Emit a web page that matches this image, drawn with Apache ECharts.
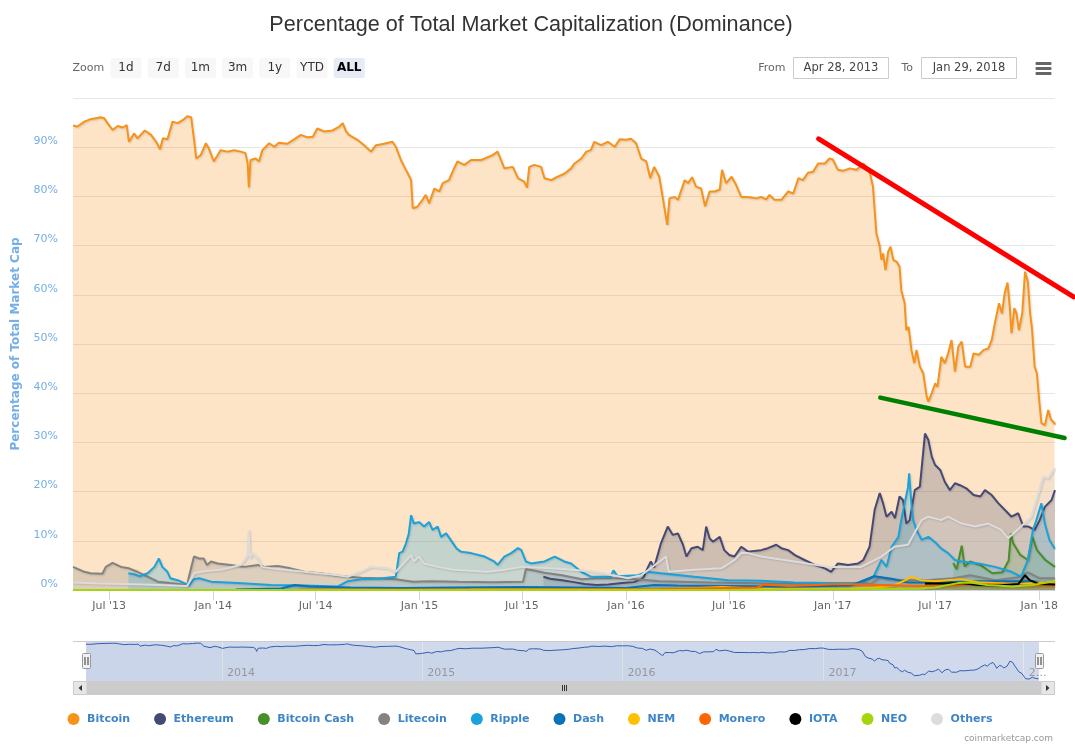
<!DOCTYPE html>
<html><head><meta charset="utf-8">
<script src="https://cdn.jsdelivr.net/npm/echarts@6/dist/echarts.min.js"></script>
<style>html,body{margin:0;padding:0;background:#fff}#c{width:1075px;height:747px}</style>
</head><body><div id="c"></div>
<script>
// ---------------- DATA ----------------
const coinNames = ['Bitcoin','Ethereum','Bitcoin Cash','Litecoin','Ripple','Dash','NEM','Monero','IOTA','NEO','Others'];
const coinColors = ['#f7931a','#454a75','#478f2b','#838383','#1aa2db','#0a72b6','#fec000','#ff6600','#000000','#a4d60e','#dcdcdc'];

const xTickDates = ['2013-07-01','2014-01-01','2014-07-01','2015-01-01','2015-07-01','2016-01-01','2016-07-01','2017-01-01','2017-07-01','2018-01-01'];
const xTickLabels = ["Jul '13","Jan '14","Jul '14","Jan '15","Jul '15","Jan '16","Jul '16","Jan '17","Jul '17","Jan '18"];
const navTickDates = ['2014-01-01','2015-01-01','2016-01-01','2017-01-01','2018-01-01'];
const navTickLabels = ['2014','2015','2016','2017','2…'];
const dateRange = ['2013-04-28','2018-01-29'];

const btc = [['2013-04-28',94.4],['2013-05-06',94.2],['2013-05-18',95.2],['2013-05-29',95.7],['2013-06-16',96.1],['2013-06-22',95.9],['2013-06-28',94.9],['2013-07-07',93.5],['2013-07-16',94.3],['2013-07-25',94.0],['2013-08-01',94.5],['2013-08-05',91.1],['2013-08-14',92.8],['2013-08-20',91.8],['2013-09-02',93.4],['2013-09-13',92.5],['2013-09-22',91.1],['2013-09-29',89.6],['2013-10-04',91.8],['2013-10-12',91.6],['2013-10-21',95.2],['2013-10-30',94.9],['2013-11-08',95.5],['2013-11-16',96.3],['2013-11-23',96.1],['2013-11-29',90.8],['2013-12-02',87.7],['2013-12-10',88.4],['2013-12-19',90.8],['2013-12-24',89.8],['2014-01-02',87.1],['2014-01-14',89.4],['2014-01-26',89.1],['2014-02-07',89.4],['2014-02-19',89.1],['2014-02-27',88.8],['2014-03-03',86.7],['2014-03-05',81.8],['2014-03-08',87.4],['2014-03-17',87.7],['2014-03-23',87.1],['2014-03-29',89.4],['2014-04-10',90.8],['2014-04-19',90.1],['2014-04-27',90.9],['2014-05-12',90.7],['2014-05-24',91.6],['2014-06-05',92.5],['2014-06-17',92.0],['2014-06-26',92.1],['2014-07-04',93.8],['2014-07-16',93.2],['2014-07-31',93.4],['2014-08-12',94.2],['2014-08-18',94.9],['2014-08-24',93.2],['2014-08-29',92.5],['2014-09-13',91.5],['2014-09-25',90.4],['2014-10-07',89.1],['2014-10-16',90.4],['2014-10-30',90.7],['2014-11-14',91.1],['2014-11-20',90.1],['2014-11-29',87.4],['2014-12-05',86.0],['2014-12-11',84.7],['2014-12-17',83.3],['2014-12-20',77.6],['2014-12-28',77.9],['2015-01-06',79.3],['2015-01-12',80.3],['2015-01-18',78.6],['2015-01-27',81.6],['2015-02-05',81.0],['2015-02-11',82.7],['2015-02-22',83.3],['2015-03-03',85.7],['2015-03-09',87.1],['2015-03-21',86.4],['2015-04-02',87.4],['2015-04-20',87.4],['2015-05-10',88.4],['2015-05-19',89.1],['2015-05-31',85.7],['2015-06-15',86.0],['2015-06-24',83.7],['2015-07-05',83.0],['2015-07-10',81.8],['2015-07-14',86.0],['2015-07-23',86.4],['2015-08-04',86.0],['2015-08-10',83.7],['2015-08-22',83.3],['2015-09-02',84.0],['2015-09-14',84.6],['2015-09-26',85.7],['2015-10-02',86.7],['2015-10-14',87.7],['2015-10-23',89.1],['2015-10-31',89.4],['2015-11-06',91.1],['2015-11-18',90.4],['2015-11-30',91.1],['2015-12-12',90.1],['2015-12-21',91.6],['2016-01-01',91.5],['2016-01-10',91.7],['2016-01-19',90.8],['2016-01-28',87.7],['2016-02-06',87.1],['2016-02-13',83.7],['2016-02-20',86.0],['2016-02-29',84.0],['2016-03-06',79.9],['2016-03-14',74.2],['2016-03-18',79.6],['2016-03-27',79.9],['2016-04-02',79.3],['2016-04-14',83.3],['2016-04-20',82.7],['2016-04-27',83.9],['2016-05-04',82.0],['2016-05-13',81.6],['2016-05-20',78.0],['2016-05-28',81.0],['2016-06-06',81.0],['2016-06-15',81.4],['2016-06-19',85.4],['2016-06-26',82.7],['2016-07-06',84.0],['2016-07-14',82.3],['2016-07-23',79.9],['2016-08-04',79.9],['2016-08-19',79.6],['2016-08-27',79.9],['2016-09-05',79.4],['2016-09-11',80.3],['2016-09-20',79.3],['2016-10-02',79.3],['2016-10-14',81.0],['2016-10-23',80.6],['2016-11-01',83.7],['2016-11-09',83.3],['2016-11-18',84.8],['2016-11-27',85.0],['2016-12-06',86.7],['2016-12-18',86.7],['2016-12-26',87.7],['2017-01-01',87.5],['2017-01-10',85.4],['2017-01-19',85.2],['2017-01-31',85.7],['2017-02-12',85.4],['2017-02-24',86.7],['2017-03-07',85.0],['2017-03-13',82.0],['2017-03-16',77.2],['2017-03-19',72.5],['2017-03-25',69.8],['2017-03-28',67.1],['2017-03-31',68.4],['2017-04-04',65.0],['2017-04-09',68.8],['2017-04-13',69.8],['2017-04-18',67.1],['2017-04-24',66.7],['2017-04-29',65.7],['2017-05-02',61.0],['2017-05-08',58.3],['2017-05-11',52.8],['2017-05-15',53.5],['2017-05-20',48.8],['2017-05-25',46.1],['2017-05-29',48.8],['2017-06-04',45.4],['2017-06-10',44.0],['2017-06-16',39.3],['2017-06-19',38.3],['2017-06-25',40.0],['2017-07-01',42.0],['2017-07-05',41.3],['2017-07-12',47.4],['2017-07-18',46.1],['2017-07-24',48.1],['2017-07-30',50.8],['2017-08-05',44.4],['2017-08-11',49.5],['2017-08-17',50.5],['2017-08-23',45.4],['2017-09-01',45.4],['2017-09-07',48.1],['2017-09-16',47.8],['2017-09-25',48.8],['2017-10-03',49.1],['2017-10-09',50.8],['2017-10-15',54.5],['2017-10-22',58.3],['2017-10-27',56.2],['2017-11-01',60.3],['2017-11-06',62.5],['2017-11-10',57.6],['2017-11-13',52.2],['2017-11-18',57.3],['2017-11-22',56.2],['2017-11-26',52.8],['2017-12-02',56.2],['2017-12-07',64.7],['2017-12-12',62.7],['2017-12-16',56.2],['2017-12-19',53.5],['2017-12-24',45.4],['2017-12-28',44.0],['2018-01-01',38.6],['2018-01-05',33.9],['2018-01-11',33.5],['2018-01-17',36.6],['2018-01-22',34.6],['2018-01-28',33.9],['2018-01-29',33.6]];

const eth = [['2015-08-08',2.7],['2015-08-20',2.3],['2015-09-10',2.0],['2015-10-01',1.6],['2015-10-20',1.2],['2015-11-10',1.0],['2015-12-01',1.1],['2015-12-25',1.4],['2016-01-15',1.6],['2016-01-28',2.2],['2016-02-02',2.7],['2016-02-08',4.4],['2016-02-14',5.8],['2016-02-20',4.6],['2016-03-03',9.5],['2016-03-15',12.9],['2016-03-24',11.2],['2016-04-02',11.5],['2016-04-11',9.2],['2016-04-17',6.8],['2016-04-26',8.5],['2016-05-07',8.8],['2016-05-16',8.1],['2016-05-22',12.9],['2016-05-28',10.5],['2016-06-03',9.8],['2016-06-15',10.8],['2016-06-23',8.1],['2016-07-02',7.1],['2016-07-11',6.8],['2016-07-23',8.8],['2016-08-04',7.8],['2016-08-27',8.1],['2016-09-08',8.5],['2016-09-23',9.2],['2016-10-02',8.5],['2016-10-14',8.1],['2016-10-26',7.1],['2016-11-12',6.1],['2016-11-30',5.1],['2016-12-18',4.4],['2016-12-29',3.7],['2017-01-10',5.4],['2017-01-28',5.1],['2017-02-15',5.4],['2017-02-24',6.1],['2017-03-07',8.8],['2017-03-16',16.3],['2017-03-25',19.7],['2017-03-31',17.6],['2017-04-06',14.9],['2017-04-15',15.9],['2017-04-21',14.6],['2017-04-29',19.0],['2017-05-05',18.3],['2017-05-11',13.5],['2017-05-17',14.2],['2017-05-26',20.3],['2017-06-04',21.0],['2017-06-13',31.8],['2017-06-19',30.5],['2017-06-25',27.1],['2017-07-01',25.4],['2017-07-10',24.4],['2017-07-18',22.0],['2017-07-27',20.3],['2017-08-05',21.7],['2017-08-14',21.3],['2017-08-26',20.6],['2017-09-07',19.3],['2017-09-19',19.0],['2017-09-27',20.3],['2017-10-09',19.3],['2017-10-21',17.6],['2017-11-01',16.3],['2017-11-13',14.9],['2017-11-25',15.6],['2017-12-04',12.9],['2017-12-13',12.9],['2017-12-24',12.2],['2018-01-02',14.2],['2018-01-11',16.9],['2018-01-23',18.3],['2018-01-29',20.3]];

const bch = [['2017-08-02',5.5],['2017-08-08',4.2],['2017-08-17',9.0],['2017-08-22',4.8],['2017-09-01',5.8],['2017-09-20',5.0],['2017-10-10',3.4],['2017-10-28',3.6],['2017-11-08',6.0],['2017-11-12',11.5],['2017-11-16',9.5],['2017-11-28',7.2],['2017-12-12',6.1],['2017-12-20',10.8],['2017-12-28',8.1],['2018-01-12',6.1],['2018-01-29',4.7]];

const ltc = [['2013-04-28',4.7],['2013-05-18',3.7],['2013-05-29',3.4],['2013-06-19',3.3],['2013-06-25',4.7],['2013-07-07',5.5],['2013-07-22',4.7],['2013-08-05',4.4],['2013-08-20',3.7],['2013-09-07',2.7],['2013-09-25',1.7],['2013-10-17',1.4],['2013-11-16',1.0],['2013-11-19',2.7],['2013-11-28',6.8],['2013-12-07',6.4],['2013-12-15',6.4],['2013-12-21',5.1],['2013-12-28',5.8],['2014-01-09',5.4],['2014-02-01',5.1],['2014-02-25',4.7],['2014-03-21',5.1],['2014-04-01',4.7],['2014-04-25',4.9],['2014-05-18',4.4],['2014-06-11',3.7],['2014-07-10',3.4],['2014-08-03',3.0],['2014-08-27',2.7],['2014-09-20',2.5],['2014-10-20',2.4],['2014-11-20',2.2],['2014-12-20',1.7],['2015-01-20',1.8],['2015-03-10',1.7],['2015-05-10',1.6],['2015-07-03',1.7],['2015-07-08',4.2],['2015-07-20',4.0],['2015-08-10',3.5],['2015-09-10',3.0],['2015-10-15',2.2],['2015-11-10',2.4],['2015-12-15',2.4],['2016-01-20',2.2],['2016-03-01',1.8],['2016-06-01',1.5],['2016-09-01',1.3],['2016-12-01',1.3],['2017-01-15',1.3],['2017-03-10',1.3],['2017-03-25',2.6],['2017-04-10',2.2],['2017-05-10',2.0],['2017-06-15',2.0],['2017-08-01',2.4],['2017-09-01',3.0],['2017-10-15',2.0],['2017-11-25',2.6],['2017-12-12',3.6],['2018-01-01',2.4],['2018-01-29',2.4]];

const xrp = [['2013-08-04',3.4],['2013-08-14',3.2],['2013-08-24',2.8],['2013-09-07',3.4],['2013-09-19',4.7],['2013-09-27',6.4],['2013-10-03',4.7],['2013-10-12',3.7],['2013-10-17',2.4],['2013-10-30',2.0],['2013-11-11',1.4],['2013-11-19',0.9],['2013-11-28',2.2],['2013-12-07',2.4],['2013-12-28',1.7],['2014-02-13',1.4],['2014-04-13',1.0],['2014-06-11',0.9],['2014-08-09',0.7],['2014-08-27',1.8],['2014-09-20',2.2],['2014-10-20',2.3],['2014-11-20',2.7],['2014-11-26',7.5],['2014-12-02',7.8],['2014-12-08',9.5],['2014-12-13',11.5],['2014-12-17',15.2],['2014-12-22',13.5],['2014-12-31',13.8],['2015-01-09',12.9],['2015-01-18',13.8],['2015-01-24',12.2],['2015-02-02',12.9],['2015-02-08',10.8],['2015-02-17',11.5],['2015-02-25',10.2],['2015-03-07',8.5],['2015-03-15',7.8],['2015-04-02',7.5],['2015-04-26',6.8],['2015-05-13',5.8],['2015-05-19',5.1],['2015-05-31',6.8],['2015-06-12',7.5],['2015-06-24',8.5],['2015-06-30',8.1],['2015-07-08',5.8],['2015-07-17',5.4],['2015-08-10',5.8],['2015-08-28',6.8],['2015-09-14',5.8],['2015-09-26',5.4],['2015-10-14',3.7],['2015-10-31',2.7],['2015-12-05',2.7],['2015-12-10',4.0],['2015-12-17',2.8],['2016-01-22',3.0],['2016-02-08',3.7],['2016-03-03',3.4],['2016-05-01',2.7],['2016-06-30',2.0],['2016-08-27',1.9],['2016-10-25',1.5],['2016-12-24',1.4],['2017-02-20',1.4],['2017-03-14',2.7],['2017-03-28',6.1],['2017-04-06',4.7],['2017-04-15',8.8],['2017-04-27',10.8],['2017-05-02',14.2],['2017-05-08',17.6],['2017-05-14',20.9],['2017-05-16',23.7],['2017-05-20',17.6],['2017-05-23',14.2],['2017-05-29',12.2],['2017-06-07',10.2],['2017-06-19',10.8],['2017-07-01',9.7],['2017-07-12',8.4],['2017-07-24',7.5],['2017-08-05',6.1],['2017-08-17',5.8],['2017-09-16',5.4],['2017-10-15',4.7],['2017-11-13',3.7],['2017-11-30',2.7],['2017-12-12',6.1],['2017-12-21',12.2],['2017-12-27',14.2],['2018-01-05',17.6],['2018-01-11',13.5],['2018-01-19',10.2],['2018-01-28',8.5],['2018-01-29',8.4]];

const dash = [['2014-02-10',0.1],['2014-05-01',0.3],['2014-05-25',1.0],['2014-06-20',0.7],['2014-09-01',0.5],['2014-12-01',0.4],['2015-03-01',0.5],['2015-07-01',0.6],['2015-10-01',0.5],['2016-01-01',0.4],['2016-02-20',1.0],['2016-04-01',0.9],['2016-07-01',0.8],['2016-10-01',0.7],['2016-12-15',0.8],['2017-02-01',0.9],['2017-03-15',2.8],['2017-04-15',2.3],['2017-05-15',1.5],['2017-07-01',1.5],['2017-09-01',1.8],['2017-11-15',1.8],['2017-12-20',1.8],['2018-01-29',1.3]];

const nem = [['2015-04-01',0.1],['2016-03-01',0.1],['2016-06-20',0.6],['2016-09-01',0.2],['2016-12-01',0.2],['2017-02-01',0.3],['2017-03-15',0.5],['2017-04-15',0.8],['2017-05-10',2.0],['2017-05-20',2.7],['2017-06-05',2.0],['2017-07-01',1.8],['2017-08-15',2.2],['2017-09-15',1.6],['2017-11-01',1.3],['2017-12-01',1.2],['2018-01-05',1.6],['2018-01-29',1.4]];

const xmr = [['2014-06-01',0.1],['2015-06-01',0.1],['2016-03-01',0.2],['2016-08-20',0.5],['2016-09-01',1.1],['2016-10-15',0.8],['2016-12-01',1.0],['2017-01-15',1.2],['2017-03-01',1.1],['2017-04-01',1.0],['2017-06-01',0.8],['2017-08-01',0.9],['2017-09-01',1.2],['2017-11-01',1.1],['2017-12-15',0.9],['2018-01-29',0.9]];

const iota = [['2017-06-13',1.3],['2017-07-15',1.3],['2017-08-15',1.4],['2017-09-15',1.0],['2017-10-20',0.9],['2017-11-25',1.2],['2017-12-07',3.0],['2017-12-15',2.0],['2018-01-01',1.2],['2018-01-29',1.1]];

const neo = [['2013-04-28',0],['2016-09-08',0],['2016-10-01',0.1],['2017-02-01',0.1],['2017-06-01',0.3],['2017-07-01',0.5],['2017-08-10',1.4],['2017-09-01',1.5],['2017-10-01',1.0],['2017-11-15',0.7],['2017-12-20',1.0],['2018-01-15',1.5],['2018-01-29',1.9]];

const others = [['2013-04-28',1.5],['2013-06-15',1.3],['2013-09-01',1.1],['2013-11-16',0.8],['2013-11-28',3.4],['2013-12-15',3.8],['2014-01-14',4.1],['2014-02-19',5.1],['2014-03-03',7.0],['2014-03-05',12.2],['2014-03-07',6.5],['2014-03-11',7.5],['2014-03-21',6.4],['2014-03-28',4.7],['2014-04-13',4.4],['2014-06-11',3.7],['2014-08-09',3.0],['2014-08-27',2.7],['2014-09-19',3.7],['2014-10-07',4.7],['2014-11-06',4.4],['2014-11-20',3.7],['2014-12-17',7.1],['2014-12-22',5.8],['2014-12-31',6.8],['2015-01-09',5.4],['2015-02-02',4.7],['2015-03-03',4.1],['2015-05-01',3.7],['2015-05-31',4.1],['2015-06-30',4.7],['2015-09-08',4.3],['2015-11-06',3.7],['2016-01-05',2.4],['2016-01-28',3.0],['2016-03-12',6.8],['2016-03-17',3.7],['2016-05-01',4.1],['2016-06-18',4.4],['2016-07-11',6.1],['2016-07-23',7.5],['2016-08-04',7.5],['2016-08-27',6.8],['2016-10-25',5.8],['2016-12-24',4.7],['2017-02-20',4.7],['2017-03-28',6.8],['2017-04-20',8.8],['2017-05-14',9.2],['2017-05-25',11.5],['2017-06-07',14.2],['2017-06-19',14.9],['2017-07-12',14.2],['2017-07-24',14.9],['2017-08-17',13.5],['2017-09-10',12.9],['2017-10-03',13.5],['2017-10-26',12.2],['2017-11-07',10.5],['2017-11-30',12.9],['2017-12-18',14.9],['2017-12-27',18.3],['2018-01-08',23.0],['2018-01-17',22.7],['2018-01-28',24.7],['2018-01-29',24.5]];

// hand-drawn trend annotations (date, %)
const redTrend = [['2016-12-07',91.7],['2018-03-03',59.6]];
const greenTrend = [['2017-03-26',39.1],['2018-02-15',30.9]];

const coinData = [btc, eth, bch, ltc, xrp, dash, nem, xmr, iota, neo, others];
const rangeButtons = ['1d','7d','1m','3m','1y','YTD','ALL'];

// ---------------- CHART ----------------
function ts(d){ const p = d.split('-').map(Number); return new Date(p[0], p[1]-1, p[2]).getTime(); }
const toXY = arr => arr.map(p => [ts(p[0]), p[1]]);
function labeler(dates, labels){ const t = dates.map(ts); return v => { const i = t.findIndex(x => Math.abs(x - v) < 43200000); return i >= 0 ? labels[i] : ''; }; }

const chart = echarts.init(document.getElementById('c'));
const FONT = 'DejaVu Sans';
const xMin = ts(dateRange[0]), xMax = ts(dateRange[1]);

const series = coinNames.map((name, i) => ({
  name, type: 'line', xAxisIndex: 0, yAxisIndex: 0, data: toXY(coinData[i]),
  showSymbol: false, symbol: 'none', color: coinColors[i],
  lineStyle: { width: 2, color: coinColors[i], shadowColor: 'rgba(0,0,0,0.15)', shadowBlur: 2, shadowOffsetX: 1, shadowOffsetY: 1 },
  areaStyle: { color: coinColors[i], opacity: 0.25 },
  itemStyle: { color: coinColors[i] },
  emphasis: { disabled: true }, silent: true
}));
series.push({ type: 'line', xAxisIndex: 1, yAxisIndex: 1, data: toXY(btc), showSymbol: false, symbol: 'none', silent: true,
  lineStyle: { color: '#335cad', width: 1 }, areaStyle: { color: 'rgba(51,92,173,0.05)' } });

const xTickVals = xTickDates.map(ts), navTickVals = navTickDates.map(ts);

chart.setOption({
  animation: false,
  textStyle: { fontFamily: FONT },
  title: { text: 'Percentage of Total Market Capitalization (Dominance)', left: 526, top: 9, textAlign: 'center',
    textStyle: { fontFamily: 'Liberation Sans', fontSize: 21.6, fontWeight: 'normal', color: '#333333' } },
  legend: { data: coinNames, left: 62.5, top: 708, icon: 'circle', itemWidth: 17, itemHeight: 12, itemGap: 24,
    itemStyle: { borderWidth: 0 }, selectedMode: false,
    textStyle: { fontFamily: FONT, fontWeight: 'bold', fontSize: 11, color: '#3d85c6' } },
  grid: [
    { left: 73, right: 20, top: 98, bottom: 157, outerBoundsMode: 'none' },
    { left: 86, right: 36, top: 641, height: 40, show: true, backgroundColor: 'rgba(102,133,194,0.3)', borderWidth: 0, outerBoundsMode: 'none' }
  ],
  xAxis: [
    { type: 'value', gridIndex: 0, min: xMin, max: xMax, scale: true,
      axisLine: { show: true, lineStyle: { color: '#ccd6eb' } },
      axisTick: { show: true, length: 10, customValues: xTickVals, lineStyle: { color: '#ccd6eb' } },
      axisLabel: { customValues: xTickVals, formatter: labeler(xTickDates, xTickLabels), color: '#666666', fontSize: 11, fontFamily: FONT, margin: 11 },
      splitLine: { show: false } },
    { type: 'value', gridIndex: 1, min: xMin, max: xMax, scale: true,
      axisLine: { show: false },
      axisTick: { show: false, customValues: navTickVals },
      axisLabel: { customValues: navTickVals, formatter: labeler(navTickDates, navTickLabels), inside: true, margin: 2, align: 'left',
        padding: [0, 0, 0, 5], color: '#999999', fontSize: 11, fontFamily: FONT },
      splitLine: { show: true, lineStyle: { color: '#e6e6e6', width: 1 } } }
  ],
  yAxis: [
    { type: 'value', gridIndex: 0, min: 0, max: 100, interval: 10,
      name: 'Percentage of Total Market Cap', nameLocation: 'middle', nameRotate: 90, nameGap: 51,
      nameTextStyle: { color: '#76aee6', fontWeight: 'bold', fontSize: 12, fontFamily: FONT },
      axisLine: { show: false }, axisTick: { show: false },
      axisLabel: { formatter: '{value}%', showMaxLabel: false, color: '#76aee6', fontSize: 11, fontFamily: FONT, margin: 15,
        verticalAlign: 'bottom', lineHeight: 12 },
      splitLine: { show: true, lineStyle: { color: '#e6e6e6', width: 1 } } },
    { type: 'value', gridIndex: 1, min: 30, max: 100, show: false }
  ],
  series
});

// ---------------- UI chrome + annotations ----------------
const g = [];
const txt = (text, x, y, align, fill, font, z) => g.push({ type: 'text', x, y, silent: true, z: z || 1,
  style: { text, fill, font, align, verticalAlign: 'middle' } });
txt('Zoom', 72.5, 68, 'left', '#666666', '11px "DejaVu Sans"');
rangeButtons.forEach((b, i) => {
  const x0 = 110.5 + i * 37.2, sel = b === 'ALL';
  g.push({ type: 'rect', silent: true, shape: { x: x0, y: 58, width: 31, height: 20, r: 2 }, style: { fill: sel ? '#e6ebf5' : '#f7f7f7' } });
  txt(b, x0 + 15.5, 68, 'center', sel ? '#000000' : '#333333', (sel ? 'bold ' : '') + '12px "DejaVu Sans"');
});
txt('From', 785.5, 68, 'right', '#666666', '11px "DejaVu Sans"');
g.push({ type: 'rect', silent: true, shape: { x: 793.5, y: 57.5, width: 95, height: 21 }, style: { fill: '#fff', stroke: '#cccccc', lineWidth: 1 } });
txt('Apr 28, 2013', 841, 68, 'center', '#444444', '11.5px "DejaVu Sans"');
txt('To', 913, 68, 'right', '#666666', '11px "DejaVu Sans"');
g.push({ type: 'rect', silent: true, shape: { x: 921.5, y: 57.5, width: 95, height: 21 }, style: { fill: '#fff', stroke: '#cccccc', lineWidth: 1 } });
txt('Jan 29, 2018', 969, 68, 'center', '#444444', '11.5px "DejaVu Sans"');
[62, 67, 72].forEach(y => g.push({ type: 'rect', silent: true, shape: { x: 1035.5, y, width: 16, height: 3, r: 1 }, style: { fill: '#666666' } }));

g.push({ type: 'line', silent: true, shape: { x1: 73, y1: 641.5, x2: 1055, y2: 641.5 }, style: { stroke: '#cccccc', lineWidth: 1 } });
g.push({ type: 'rect', silent: true, shape: { x: 73.5, y: 681.5, width: 981, height: 13 }, style: { fill: '#f2f2f2', stroke: '#f2f2f2' } });
g.push({ type: 'rect', silent: true, shape: { x: 87, y: 681.5, width: 954, height: 13 }, style: { fill: '#cccccc', stroke: '#cccccc' } });
g.push({ type: 'rect', silent: true, shape: { x: 73.5, y: 681.5, width: 13.5, height: 13 }, style: { fill: '#e6e6e6', stroke: '#cccccc' } });
g.push({ type: 'rect', silent: true, shape: { x: 1041, y: 681.5, width: 13.5, height: 13 }, style: { fill: '#e6e6e6', stroke: '#cccccc' } });
g.push({ type: 'polygon', silent: true, shape: { points: [[78.5, 688], [82, 685], [82, 691]] }, style: { fill: '#333333' } });
g.push({ type: 'polygon', silent: true, shape: { points: [[1049.5, 688], [1046, 685], [1046, 691]] }, style: { fill: '#333333' } });
[-2, 0, 2].forEach(dx => g.push({ type: 'line', silent: true, shape: { x1: 564.5 + dx, y1: 685, x2: 564.5 + dx, y2: 691 }, style: { stroke: '#333333', lineWidth: 1 } }));

[xMin, xMax].forEach(v => {
  const hx = Math.round(chart.convertToPixel({ xAxisIndex: 1 }, v)) + 0.5;
  g.push({ type: 'rect', silent: true, z: 100, shape: { x: hx - 4, y: 653.5, width: 8, height: 15, r: 1 }, style: { fill: '#f2f2f2', stroke: '#999999', lineWidth: 1 } });
  [-1.5, 1.5].forEach(dx => g.push({ type: 'line', silent: true, z: 101, shape: { x1: hx + dx, y1: 657, x2: hx + dx, y2: 665 }, style: { stroke: '#333333', lineWidth: 1 } }));
});

// trend annotations positioned through the main grid's scales
[[redTrend, '#ff0000', 5], [greenTrend, '#008000', 4.5]].forEach(([pts, color, w]) => {
  const p = toXY(pts).map(d => chart.convertToPixel({ gridIndex: 0 }, d));
  g.push({ type: 'polyline', silent: true, z: 50, shape: { points: p }, style: { stroke: color, lineWidth: w, lineCap: 'round', fill: null } });
});
txt('coinmarketcap.com', 1053, 739, 'right', '#999999', '9px "DejaVu Sans"');

chart.setOption({ graphic: g });
</script></body></html>
